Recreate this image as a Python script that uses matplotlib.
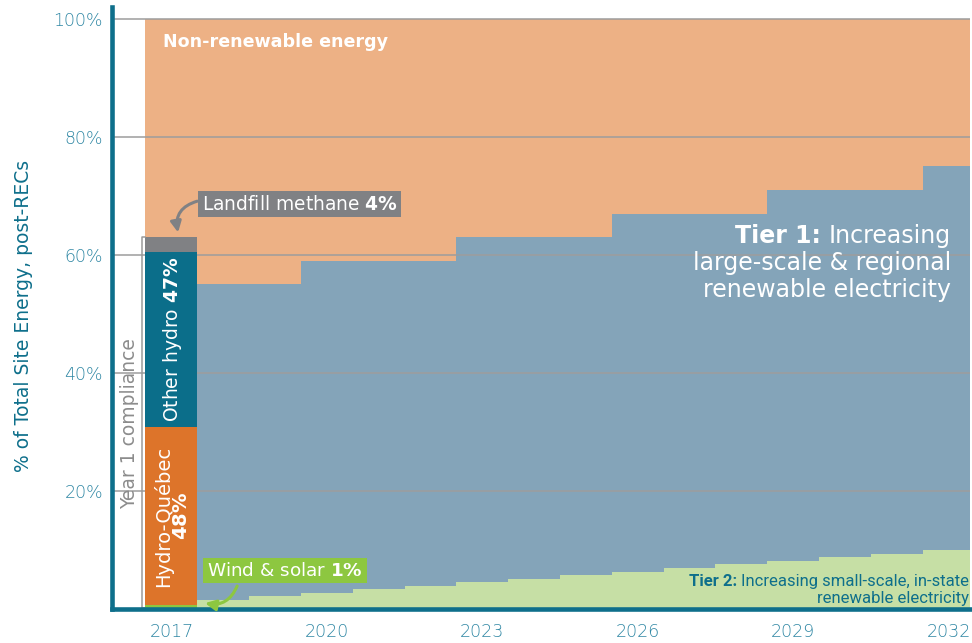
import matplotlib.pyplot as plt
import numpy as np

# Year 1 compliance mix (2017): shares of the renewable total, bottom to top
year1 = 2017
year1_total = 63
year1_names = ['Wind & solar', 'Hydro-Québec', 'Other hydro', 'Landfill methane']
year1_shares = [1, 48, 47, 4]

# Projected stack, % of total site energy
years = [2018, 2019, 2020, 2021, 2022, 2023, 2024, 2025,
         2026, 2027, 2028, 2029, 2030, 2031, 2032]
tier2 = [1.5, 2.2, 2.7, 3.4, 3.9, 4.6, 5.1, 5.8,
         6.3, 7.0, 7.6, 8.2, 8.8, 9.4, 10.0]
renewable_total = [55, 55, 59, 59, 59, 63, 63, 63,
                   67, 67, 67, 71, 71, 71, 75]

yticks = [20, 40, 60, 80, 100]
xticks = [2017, 2020, 2023, 2026, 2029, 2032]

# colours
c_nonrenew = '#EDB185'
c_tier1 = '#84A4B9'
c_tier2 = '#C6DFA5'
c_year1 = ['#8DC740', '#DD742A', '#0B6E8A', '#808184']
teal = '#0E6F8B'
tick_col = '#2F87A4'
grid_col = '#9d9d9d'
bracket_col = '#9a9a9a'

plt.rcParams['font.family'] = ['DejaVu Sans']
plt.rcParams['mathtext.fontset'] = 'custom'
plt.rcParams['mathtext.rm'] = 'DejaVu Sans'
plt.rcParams['mathtext.bf'] = 'DejaVu Sans:bold'

fig = plt.figure(figsize=(9.72, 6.43), dpi=100)
ax = fig.add_axes([0.1152, 0.0529, 0.9978 - 0.1152, 0.9891 - 0.0529])

# stepped areas
all_years = [year1] + years
edges_all = np.append(np.array(all_years) - 0.5, all_years[-1] + 0.5)
edges = np.append(np.array(years) - 0.5, years[-1] + 0.5)
ax.stairs([100] * len(all_years), edges_all, baseline=[year1_total] + renewable_total,
          fill=True, color=c_nonrenew, lw=0, zorder=1)
ax.stairs(renewable_total, edges, baseline=tier2, fill=True, color=c_tier1, lw=0, zorder=1)
ax.stairs(tier2, edges, baseline=0, fill=True, color=c_tier2, lw=0, zorder=1)

for t in yticks:
    ax.axhline(t, color=grid_col, lw=1.1, zorder=2)

# year 1 stacked bar
heights = [year1_total * s / 100 for s in year1_shares]
bottoms = np.concatenate([[0], np.cumsum(heights)[:-1]])
ax.bar([year1] * 4, heights, width=1, bottom=bottoms, color=c_year1, lw=0, zorder=3)

ax.set_xlim(2015.854, 2032.41)
ax.set_ylim(0, 102)
for s in ['top', 'right']:
    ax.spines[s].set_visible(False)
for s in ['left', 'bottom']:
    ax.spines[s].set_color(teal)
    ax.spines[s].set_linewidth(3.3)
    ax.spines[s].set_zorder(5)

ax.set_yticks(yticks)
ax.set_yticklabels(['%d%%' % t for t in yticks])
ax.set_xticks(xticks)
ax.set_xticklabels([str(t) for t in xticks])
ax.tick_params(axis='y', length=0, pad=6.5, labelsize=12.5, labelcolor=tick_col)
ax.tick_params(axis='x', length=0, pad=10, labelsize=12.5, labelcolor=tick_col)
for lab in ax.get_xticklabels() + ax.get_yticklabels():
    lab.set_fontweight('light')

fig.text(24 / 972, 1 - 316 / 643, '% of Total Site Energy, post-RECs', rotation=90,
         ha='center', va='center', fontsize=13.5, color=teal, fontweight='medium')

# year 1 compliance bracket
ax.plot([year1 - 0.5, year1 - 0.57, year1 - 0.57, year1 - 0.5],
        [year1_total, year1_total, 0.2, 0.2], color=bracket_col, lw=1.1, zorder=4,
        clip_on=False)
ax.text(2016.2, 31.5, 'Year 1 compliance', rotation=90, ha='center', va='center',
        fontsize=13.5, color='#8c8c8c')

# labels inside the year 1 bar
mid = bottoms + np.array(heights) / 2
ax.text(year1 + 0.02, mid[2], r'Other hydro $\mathbf{%d\%%}$' % year1_shares[2],
        rotation=90, ha='center', va='center', fontsize=13.5, color='white', zorder=6)
ax.text(year1 + 0.01, mid[1], 'Hydro-Québec\n' + r'$\mathbf{%d\%%}$' % year1_shares[1],
        rotation=90, ha='center', va='center', multialignment='center',
        fontsize=14, color='white', zorder=6, linespacing=0.95)

# call-out boxes
ax.text(2017.59, 68.6, r'Landfill methane $\mathbf{%d\%%}$' % year1_shares[3],
        ha='left', va='center', fontsize=13.4, color='white', zorder=6,
        bbox=dict(boxstyle='square,pad=0.2', fc=c_year1[3], ec='none'))
ax.annotate('', xy=(2017.13, year1_total + 0.8), xytext=(2017.5, 69.1),
            arrowprops=dict(arrowstyle='-|>', color=c_year1[3], lw=2.2,
                            mutation_scale=16, shrinkA=0, shrinkB=0,
                            connectionstyle='arc3,rad=0.45'), zorder=6)

ax.text(2017.69, 6.5, r'Wind & solar $\mathbf{%d\%%}$' % year1_shares[0],
        ha='left', va='center', fontsize=13.2, color='white', zorder=6,
        bbox=dict(boxstyle='square,pad=0.2', fc=c_year1[0], ec='none'))
ax.annotate('', xy=(2017.65, 1.0), xytext=(2018.27, 3.9),
            arrowprops=dict(arrowstyle='-|>', color=c_year1[0], lw=2.2,
                            mutation_scale=16, shrinkA=0, shrinkB=0,
                            connectionstyle='arc3,rad=-0.4'), zorder=6)

# area labels
ax.text(2016.84, 95.25, 'Non-renewable energy', ha='left', va='baseline',
        fontsize=12.6, fontweight='bold', color='white', zorder=6)

t1a = ax.text(2032.05, 62.0, 'Increasing', ha='right', va='baseline',
              fontsize=17, color='white', zorder=6)
ax.annotate('Tier 1: ', xy=(0, 0), xycoords=t1a, ha='right', va='bottom',
            fontsize=17, fontweight='bold', color='white', zorder=6)
ax.text(2032.05, 57.45, 'large-scale & regional', ha='right', va='baseline',
        fontsize=17, color='white', zorder=6)
ax.text(2032.05, 52.9, 'renewable electricity', ha='right', va='baseline',
        fontsize=17, color='white', zorder=6)

t2a = ax.text(2032.39, 3.9, 'Increasing small-scale, in-state', ha='right', va='baseline',
              family='Roboto', fontsize=12, color=teal, zorder=6)
ax.annotate('Tier 2: ', xy=(0, 0), xycoords=t2a, ha='right', va='bottom',
            family='Roboto', fontsize=12, fontweight='bold', color=teal, zorder=6)
ax.text(2032.39, 1.0, 'renewable electricity', ha='right', va='baseline',
        family='Roboto', fontsize=12, color=teal, zorder=6)

fig.savefig('out.png', dpi=100)
